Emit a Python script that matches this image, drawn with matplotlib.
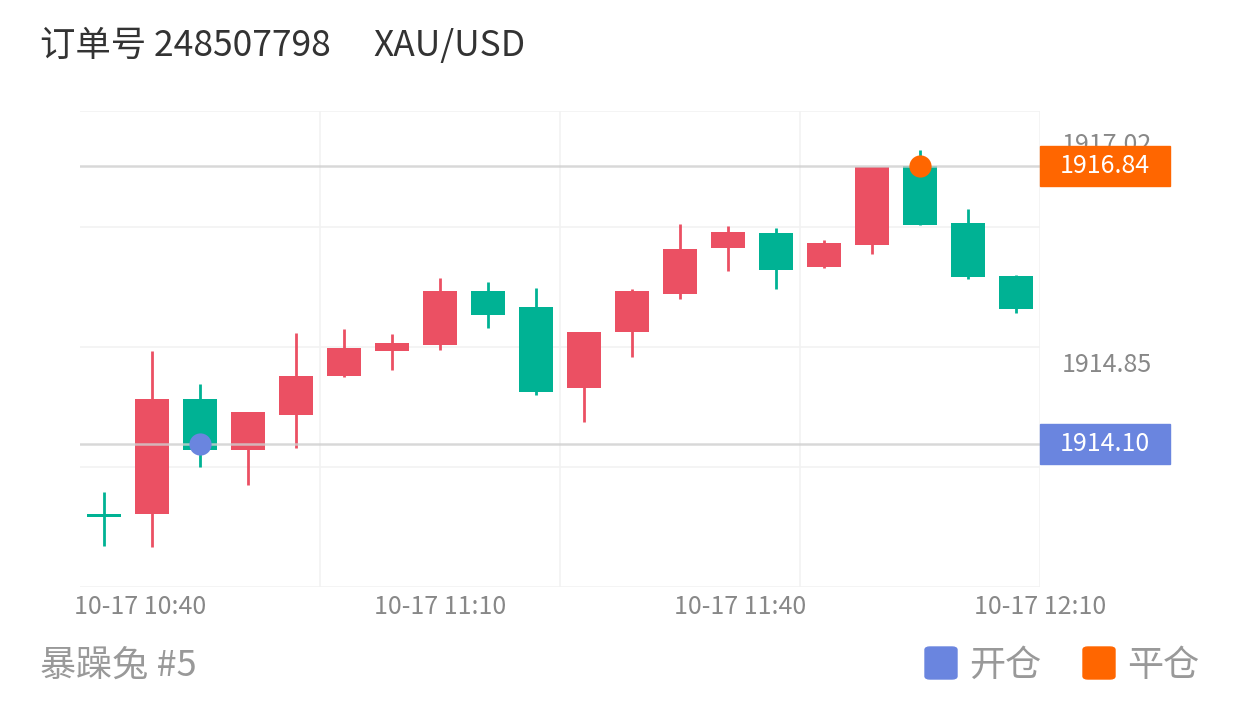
import matplotlib.pyplot as plt
from matplotlib.patches import Rectangle, FancyBboxPatch
from matplotlib.transforms import blended_transform_factory

plt.rcParams['font.family'] = ['Noto Sans CJK SC', 'DejaVu Sans']

# K线数据 (开, 高, 低, 收)
opens = [1913.39, 1913.40, 1914.54, 1914.04, 1914.38, 1914.77, 1915.01, 1915.07, 1915.61, 1915.45,
         1914.65, 1915.20, 1915.58, 1916.03, 1916.18, 1915.84, 1916.06, 1916.84, 1916.28, 1915.75]
highs = [1913.62, 1915.01, 1914.69, 1914.41, 1915.19, 1915.23, 1915.18, 1915.73, 1915.69, 1915.64,
         1915.20, 1915.63, 1916.27, 1916.25, 1916.23, 1916.11, 1916.83, 1917.00, 1916.42, 1915.76]
lows = [1913.09, 1913.08, 1913.87, 1913.69, 1914.06, 1914.76, 1914.83, 1915.02, 1915.24, 1914.58,
        1914.31, 1914.95, 1915.53, 1915.80, 1915.63, 1915.83, 1915.97, 1916.26, 1915.72, 1915.39]
closes = [1913.39, 1914.54, 1914.04, 1914.41, 1914.77, 1915.04, 1915.09, 1915.61, 1915.37, 1914.61,
          1915.20, 1915.61, 1916.02, 1916.19, 1915.81, 1916.08, 1916.83, 1916.26, 1915.74, 1915.43]

x_labels = ['10-17 10:40', '10-17 11:10', '10-17 11:40', '10-17 12:10']
x_label_pos = [0.75, 7.0, 13.25, 19.5]

open_idx, open_price = 2, 1914.10
close_idx, close_price = 17, 1916.84
y_axis_labels = [1917.02, 1914.85]

up_color = '#EB5063'
down_color = '#00B294'
open_color = '#6A85DF'
close_color = '#FF6600'

ymin, ymax = 1912.684, 1917.383

fig = plt.figure(figsize=(12.4, 7.04), dpi=100)
ax = fig.add_axes([80 / 1240, 1 - 587 / 704, 960 / 1240, 476 / 704])
ax.set_xlim(-0.5, len(opens) - 0.5)
ax.set_ylim(ymin, ymax)
px = (ymax - ymin) / 476.0  # 每像素对应的价格

# 网格
for gy in [1913.869, 1915.053, 1916.238, ymax, ymin]:
    ax.axhline(gy, color='#f2f2f2', lw=1.2, zorder=0)
for gx in [4.5, 9.5, 14.5, 19.5]:
    ax.axvline(gx, color='#f2f2f2', lw=1.2, zorder=0)

# 蜡烛
for i in range(len(opens)):
    o, h, l, c = opens[i], highs[i], lows[i], closes[i]
    col = up_color if c >= o else down_color
    if abs(c - o) < 0.005:
        col = down_color
    ax.vlines(i, l, h, color=col, lw=2, zorder=2)
    bottom = min(o, c)
    height = max(abs(c - o), 2.5 * px)
    if abs(c - o) < 0.005:
        bottom = o - 1.25 * px
    ax.bar(i, height, bottom=bottom, width=0.71, color=col, zorder=3)

# 开仓/平仓线
ax.axhline(open_price, color='#cfcfcf', lw=1.8, alpha=0.8, zorder=4)
ax.axhline(close_price, color='#cfcfcf', lw=1.8, alpha=0.8, zorder=4)
ax.plot(open_idx, open_price, 'o', color=open_color, ms=16, mec='none', zorder=5)
ax.plot(close_idx, close_price, 'o', color=close_color, ms=16, mec='none', zorder=5)

for s in ax.spines.values():
    s.set_visible(False)
ax.set_yticks([])
ax.set_xticks(x_label_pos)
ax.set_xticklabels(x_labels, fontsize=18, color='#888888')
ax.tick_params(axis='x', length=0, pad=5)

# 右侧价格标签 (1917.02 被平仓标签部分遮挡, 与原图一致)
tr = blended_transform_factory(ax.transAxes, ax.transData)
for v in y_axis_labels:
    ax.text(1.023, v + 3 * px, f'{v:.2f}', transform=tr, fontsize=18, color='#888888',
            ha='left', va='center', clip_on=False)
for v, col in [(close_price, close_color), (open_price, open_color)]:
    ax.add_patch(Rectangle((1.0, v - 20 * px), 130 / 960, 40 * px, transform=tr,
                           color=col, clip_on=False, zorder=6))
    ax.text(1.0 + 65 / 960, v, f'{v:.2f}', transform=tr, fontsize=18, color='white',
            ha='center', va='center', clip_on=False, zorder=7)

# 标题与底部文字
fig.text(40 / 1240, 1 - 46 / 704, '订单号 248507798', fontsize=25.5, color='#333333', va='center')
fig.text(373 / 1240, 1 - 46 / 704, 'XAU/USD', fontsize=25.5, color='#333333', va='center')
fig.text(40 / 1240, 1 - 666 / 704, '暴躁兔 #5', fontsize=26, color='#999999', va='center')

# 图例
for lx, col, lab in [(925, open_color, '开仓'), (1083, close_color, '平仓')]:
    fig.patches.append(FancyBboxPatch((lx / 1240, 1 - 679 / 704), 32 / 1240, 32 / 704,
                                      boxstyle='round,pad=0,rounding_size=0.004',
                                      transform=fig.transFigure, color=col))
    fig.text((lx + 44) / 1240, 1 - 666 / 704, lab, fontsize=26, color='#999999', va='center')

plt.savefig('out.png', dpi=100)
